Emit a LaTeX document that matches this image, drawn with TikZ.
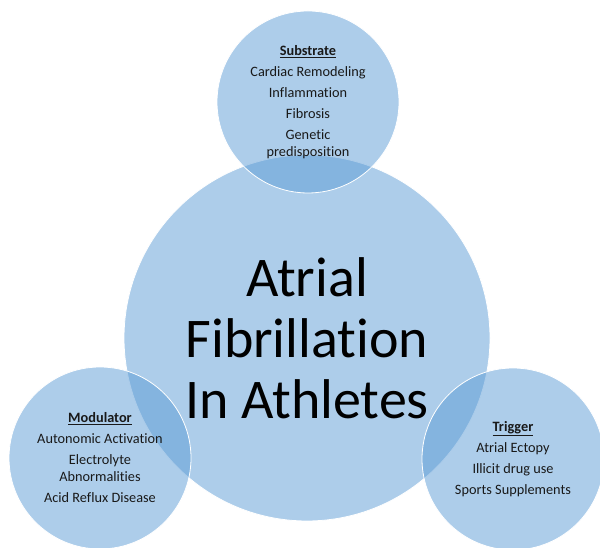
\documentclass[tikz,border=0pt]{standalone}
\usepackage{fontspec}
\setmainfont[Ligatures=CommonOff]{Carlito}
\definecolor{afblue}{HTML}{5B9BD5}
\begin{document}
\begin{tikzpicture}[x=1pt,y=1pt,
	bubble/.style={circle,fill=afblue,fill opacity=0.5,text opacity=1,draw=white,line width=0.8pt,inner sep=0pt,align=center},
	factor/.style={bubble,minimum size=182pt,font=\fontsize{14.3}{17}\selectfont,text=black!90}]
	\useasboundingbox (0,0) rectangle (600,548);
	\node[bubble,minimum size=366pt,font=\fontsize{56}{61}\selectfont] (af) at (307,210) {Atrial\\Fibrillation\\In Athletes};
	\node[factor] (substrate) at (308,446) {\underline{\textbf{Substrate}}\\[4pt]Cardiac Remodeling\\[4pt]Inflammation\\[4pt]Fibrosis\\[4pt]Genetic\\predisposition};
	\node[factor] (modulator) at (100,90) {\underline{\textbf{Modulator}}\\[4pt]Autonomic Activation\\[4pt]Electrolyte\\Abnormalities\\[4pt]Acid Reflux Disease};
	\node[factor] (trigger) at (513,89) {\underline{\textbf{Trigger}}\\[4pt]Atrial Ectopy\\[4pt]Illicit drug use\\[4pt]Sports Supplements};
\end{tikzpicture}
\end{document}
